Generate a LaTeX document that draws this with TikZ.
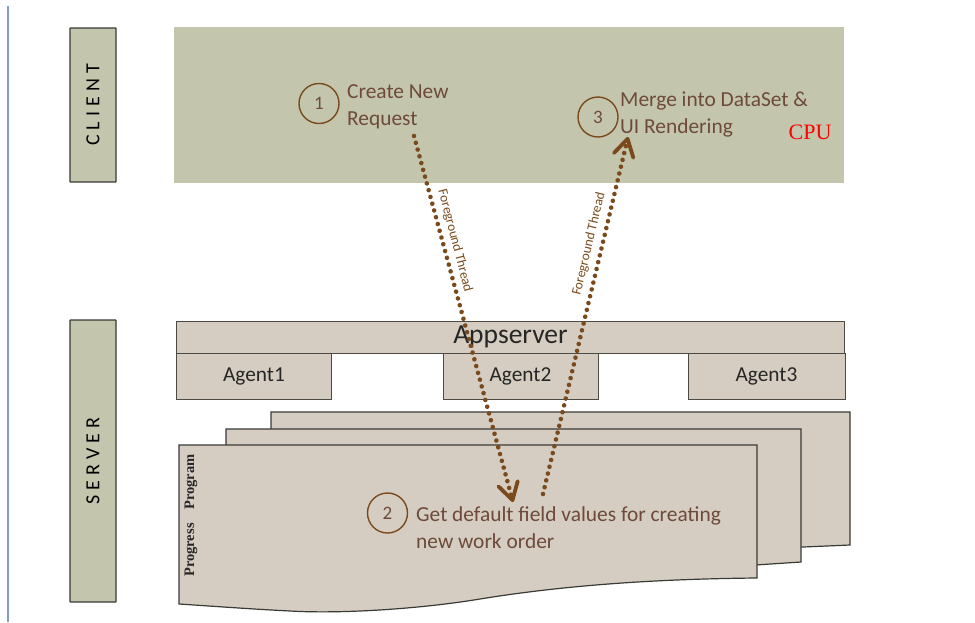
\documentclass[tikz,border=0pt]{standalone}
\usepackage{fontspec}
\setmainfont{Carlito}
\newfontfamily\serifcpu{Liberation Serif}
\usetikzlibrary{arrows.meta}
\definecolor{olivefill}{HTML}{C3C6AD}
\definecolor{tanfill}{HTML}{D5CDC1}
\definecolor{darkline}{HTML}{3A3A36}
\definecolor{softline}{HTML}{4C4A44}
\definecolor{brownline}{HTML}{7A4A1C}
\definecolor{labeltext}{HTML}{6E4A3A}
\definecolor{leftrule}{HTML}{7F9CCB}
\tikzset{
  x=1pt,y=-1pt,
  tierbox/.style={draw=darkline,line width=1.3pt,fill=olivefill,minimum width=46pt,inner sep=0pt,rounded corners=0.5pt},
  tanbox/.style={draw=softline,line width=1pt,fill=tanfill,inner sep=0pt},
  sheet/.style={draw=darkline,line width=1.2pt,fill=tanfill},
  stepcircle/.style={circle,draw=brownline,line width=1.4pt,minimum size=40pt,inner sep=0pt,text=labeltext,font=\fontsize{19}{19}\selectfont},
  steptext/.style={anchor=north west,align=left,inner sep=0pt,text=labeltext,font=\fontsize{21.4}{27}\selectfont},
  flowarrow/.style={draw=brownline,line width=4.6pt,line cap=round,dash pattern=on 0.01pt off 7pt,
    -{Straight Barb[length=17pt,width=20pt,line width=3.8pt,round]}},
  threadlabel/.style={text=brownline,inner sep=0pt,font=\fontsize{13.5}{13.5}\selectfont},
  sidelabel/.style={rotate=90,font=\serifcpu\bfseries\fontsize{14.5}{14.5}\selectfont,text=black!85,inner sep=0pt}
}
\begin{document}
\begin{tikzpicture}
\useasboundingbox (0,0) rectangle (975,622);
\fill[white] (0,0) rectangle (975,622);
\draw[draw=leftrule,line width=2pt] (7.5,6) -- (7.5,622);

% tier labels
\node[tierbox,minimum height=154pt] (clientlabel) at (93,105) {\rotatebox{90}{\fontsize{20}{20}\selectfont\addfontfeatures{LetterSpace=25}CLIENT}};
\node[tierbox,minimum height=282pt] (serverlabel) at (93,461) {\rotatebox{90}{\fontsize{20}{20}\selectfont\addfontfeatures{LetterSpace=25}SERVER}};

% client band
\node[fill=olivefill,minimum width=670pt,minimum height=156pt,inner sep=0pt] (clientband) at (509,105) {};

% appserver and agents
\node[tanbox,minimum width=668pt,minimum height=32pt,font=\fontsize{27.5}{27.5}\selectfont,text=black!85] (appserver) at (510.5,337) {Appserver};
\node[tanbox,minimum width=155pt,minimum height=46pt,font=\fontsize{21.3}{21.3}\selectfont,text=black!85] (agent1) at (254,376) {Agent1};
\node[tanbox,minimum width=155pt,minimum height=46pt,font=\fontsize{21.3}{21.3}\selectfont,text=black!85] (agent2) at (520.5,376) {Agent2};
\node[tanbox,minimum width=157pt,minimum height=46pt,font=\fontsize{21.3}{21.3}\selectfont,text=black!85] (agent3) at (766.5,376) {Agent3};

% program sheets
\draw[sheet] (271,412) -- (850,412) -- (850,545) -- (780,548) -- (700,560) -- (271,560) -- cycle;
\draw[sheet] (226,429) -- (801,429) -- (801,562) -- (740,566) -- (660,578) -- (226,578) -- cycle;
\draw[sheet] (179,445) -- (757,445) -- (757,578)
  .. controls (650,579) and (560,586) .. (480,599)
  .. controls (420,609) and (340,614) .. (290,611)
  .. controls (250,609) and (210,606) .. (179,604) -- cycle;
\node[sidelabel] (progress) at (191,550) {Progress};
\node[sidelabel] (program) at (191,482) {Program};

% steps
\node[stepcircle] (c1) at (319,103.5) {1};
\node[steptext] (t1) at (347,84) {Create New\\Request};
\node[stepcircle] (c3) at (598,117) {3};
\node[steptext] (t3) at (620,92) {Merge into DataSet \&\\UI Rendering};
\node[text=red,inner sep=0pt,font=\serifcpu\fontsize{22}{22}\selectfont] (cpu) at (810,132) {CPU};
\node[stepcircle] (c2) at (387.5,513) {2};
\node[steptext] (t2) at (416,506) {Get default field values for creating\\new work order};

% arrows
\coordinate (a1s) at (414,136);
\coordinate (a1e) at (513,502);
\coordinate (a2s) at (543,494);
\coordinate (a2e) at (628,137);
\draw[flowarrow] (a1s) -- (a1e);
\draw[flowarrow] (a2s) -- (a2e);
\node[threadlabel,rotate=-75.5] (th1) at (455,241) {Foreground Thread};
\node[threadlabel,rotate=76.5] (th2) at (589,244) {Foreground Thread};
\end{tikzpicture}
\end{document}
